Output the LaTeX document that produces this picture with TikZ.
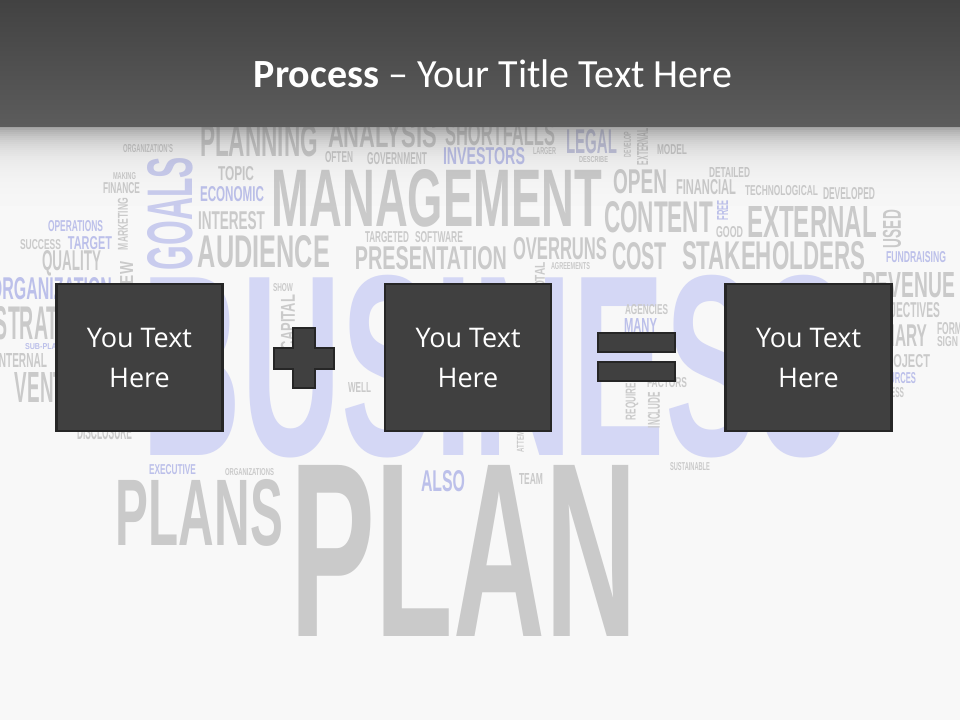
\documentclass[tikz,border=0pt]{standalone}
\usepackage{fontspec}
\usepackage{graphicx}
\usepackage{xcolor}
\usepackage{tikz}
\usetikzlibrary{positioning,calc}

\newfontfamily\cloudfont{Liberation Sans}
\newfontfamily\titlefont{Carlito}
\newfontfamily\boxfont{Open Sans}

\definecolor{slidebg}{HTML}{F8F8F8}
\definecolor{hdrtop}{HTML}{424242}
\definecolor{hdrbot}{HTML}{5C5C5C}
\definecolor{cloudgray}{HTML}{CACACA}
\definecolor{cloudblue}{HTML}{BCC0EA}
\definecolor{cloudlav}{HTML}{D4D7F5}
\definecolor{goalslav}{HTML}{C9CCEE}
\definecolor{legalgray}{HTML}{C2C4DD}
\definecolor{boxfill}{HTML}{404040}
\definecolor{boxedge}{HTML}{262626}

% word of the cloud: x1 y1 x2 y2 colour text
\newcommand{\cloudword}[6]{%
  \pgfmathsetmacro\cwW{#3-#1}\pgfmathsetmacro\cwH{#4-#2}%
  \node[word,text=#5,name=cw-#6] at ({(#1+#3)/2},{(#2+#4)/2})
    {\resizebox{\cwW pt}{\cwH pt}{#6}};}
% same, read from bottom to top
\newcommand{\cloudwordv}[6]{%
  \pgfmathsetmacro\cwW{#4-#2}\pgfmathsetmacro\cwH{#3-#1}%
  \node[word,rotate=90,text=#5,name=cv-#6] at ({(#1+#3)/2},{(#2+#4)/2})
    {\resizebox{\cwW pt}{\cwH pt}{#6}};}

\begin{document}
\begin{tikzpicture}[
  x=1pt,y=-1pt,
  word/.style={inner sep=0pt,outer sep=0pt,font=\cloudfont\bfseries},
  box/.style={rectangle,draw=boxedge,fill=boxfill,line width=2.5pt,
              minimum width=166pt,minimum height=147pt,
              align=center,text=white,
              font=\boxfont\fontsize{27}{40}\selectfont},
  sign/.style={draw=boxedge,fill=boxfill,line width=2.5pt}
]
\useasboundingbox (0,0) rectangle (960,720);
\fill[slidebg] (0,0) rectangle (960,720);

% word cloud in the background
\cloudword{123}{145}{173}{153}{cloudgray}{ORGANIZATION'S}
\cloudword{200}{125}{318}{157}{cloudgray}{PLANNING}
\cloudword{328}{122}{437}{148}{cloudgray}{ANALYSIS}
\cloudword{445}{122}{555}{146}{cloudgray}{SHORTFALLS}
\cloudword{325}{152}{353}{163}{cloudgray}{OFTEN}
\cloudword{367}{153}{427}{165}{cloudgray}{GOVERNMENT}
\cloudword{443}{148}{525}{165}{cloudblue}{INVESTORS}
\cloudword{533}{148}{556}{155}{cloudgray}{LARGER}
\cloudword{566}{130}{617}{154}{legalgray}{LEGAL}
\cloudword{579}{157}{608}{163}{cloudgray}{DESCRIBE}
\cloudwordv{624}{132}{631}{157}{cloudgray}{DEVELOP}
\cloudwordv{637}{128}{648}{165}{cloudgray}{EXTERNAL}
\cloudword{657}{145}{687}{155}{cloudgray}{MODEL}
\cloudword{113}{173}{136}{180}{cloudgray}{MAKING}
\cloudword{103}{183}{140}{194}{cloudgray}{FINANCE}
\cloudwordv{148}{157}{193}{270}{goalslav}{GOALS}
\cloudword{218}{167}{254}{181}{cloudgray}{TOPIC}
\cloudword{200}{187}{264}{202}{cloudblue}{ECONOMIC}
\cloudword{198}{212}{265}{230}{cloudgray}{INTEREST}
\cloudword{272}{170}{602}{227}{cloudgray}{MANAGEMENT}
\cloudword{198}{236}{330}{268}{cloudgray}{AUDIENCE}
\cloudword{365}{232}{409}{243}{cloudgray}{TARGETED}
\cloudword{415}{232}{463}{243}{cloudgray}{SOFTWARE}
\cloudword{355}{247}{507}{270}{cloudgray}{PRESENTATION}
\cloudword{513}{238}{607}{260}{cloudgray}{OVERRUNS}
\cloudword{613}{170}{667}{194}{cloudgray}{OPEN}
\cloudword{709}{167}{750}{177}{cloudgray}{DETAILED}
\cloudword{676}{180}{736}{195}{cloudgray}{FINANCIAL}
\cloudword{745}{186}{818}{196}{cloudgray}{TECHNOLOGICAL}
\cloudword{823}{188}{875}{200}{cloudgray}{DEVELOPED}
\cloudword{604}{202}{713}{233}{cloudgray}{CONTENT}
\cloudwordv{717}{200}{728}{220}{cloudblue}{FREE}
\cloudword{716}{227}{743}{238}{cloudgray}{GOOD}
\cloudword{747}{206}{877}{237}{cloudgray}{EXTERNAL}
\cloudwordv{883}{210}{901}{248}{cloudgray}{USED}
\cloudword{612}{243}{667}{270}{cloudgray}{COST}
\cloudword{682}{242}{865}{270}{cloudgray}{STAKEHOLDERS}
\cloudword{886}{252}{946}{263}{cloudblue}{FUNDRAISING}
\cloudword{551}{263}{590}{270}{cloudgray}{AGREEMENTS}
\cloudwordv{535}{262}{545}{295}{cloudgray}{TOTAL}
\cloudword{48}{221}{103}{232}{cloudblue}{OPERATIONS}
\cloudword{20}{240}{61}{250}{cloudgray}{SUCCESS}
\cloudword{68}{237}{112}{250}{cloudblue}{TARGET}
\cloudwordv{118}{198}{128}{250}{cloudgray}{MARKETING}
\cloudword{42}{253}{101}{273}{cloudgray}{QUALITY}
\cloudwordv{120}{262}{133}{316}{cloudgray}{REVIEW}
\cloudword{-10}{278}{112}{300}{cloudblue}{ORGANIZATION}
\cloudword{-5}{307}{100}{340}{cloudgray}{STRATEGY}
\cloudword{25}{344}{62}{350}{cloudblue}{SUB-PLAN}
\cloudword{-4}{353}{47}{367}{cloudgray}{INTERNAL}
\cloudword{15}{373}{105}{403}{cloudgray}{VENTURE}
\cloudword{77}{425}{132}{440}{cloudgray}{DISCLOSURE}
\cloudword{142}{277}{850}{457}{cloudlav}{BUSINESS}
\cloudword{273}{284}{293}{292}{cloudgray}{SHOW}
\cloudwordv{281}{295}{295}{350}{cloudgray}{CAPITAL}
\cloudword{348}{382}{371}{392}{cloudgray}{WELL}
\cloudword{625}{305}{668}{315}{cloudgray}{AGENCIES}
\cloudword{624}{318}{657}{332}{cloudblue}{MANY}
\cloudword{647}{378}{687}{388}{cloudgray}{FACTORS}
\cloudwordv{627}{383}{637}{420}{cloudgray}{REQUIRE}
\cloudwordv{648}{392}{660}{428}{cloudgray}{INCLUDE}
\cloudwordv{517}{420}{524}{452}{cloudgray}{ATTEMPTS}
\cloudword{862}{273}{955}{298}{cloudgray}{REVENUE}
\cloudword{875}{303}{940}{318}{cloudgray}{OBJECTIVES}
\cloudword{848}{325}{927}{347}{cloudgray}{SUMMARY}
\cloudword{937}{323}{962}{335}{cloudgray}{FORM}
\cloudword{937}{337}{958}{347}{cloudgray}{SIGN}
\cloudword{878}{355}{930}{368}{cloudgray}{PROJECT}
\cloudword{868}{373}{916}{384}{cloudblue}{RESOURCES}
\cloudword{872}{388}{904}{398}{cloudgray}{PROCESS}
\cloudword{149}{465}{196}{475}{cloudblue}{EXECUTIVE}
\cloudword{225}{469}{274}{476}{cloudgray}{ORGANIZATIONS}
\cloudword{116}{480}{283}{546}{cloudgray}{PLANS}
\cloudword{291}{465}{637}{636}{cloudgray}{PLAN}
\cloudword{421}{471}{465}{492}{cloudblue}{ALSO}
\cloudword{519}{473}{543}{484}{cloudgray}{TEAM}
\cloudword{670}{463}{710}{471}{cloudgray}{SUSTAINABLE}

% title bar and its soft lower edge
\shade[top color=hdrtop,bottom color=hdrbot] (0,0) rectangle (960,126);
\foreach \k in {0,...,39}{
  \pgfmathsetmacro\op{0.55*exp(-\k/9)}
  \fill[hdrbot,opacity=\op] (0,126+2*\k) rectangle (960,128+2*\k);
}
\node[anchor=base,text=white,inner sep=0pt] (title) at (493,87)
  {\titlefont\fontsize{40}{48}\selectfont\textbf{Process} – Your Title Text Here};

% the sum
\node[box] (first)  at (139.5,357.5) {You Text\\Here};
\node[box] (second) at (468,357.5)   {You Text\\Here};
\node[box] (result) at (808.5,357.5) {You Text\\Here};

\draw[sign] (293,328) -- (315,328) -- (315,348) -- (334,348) -- (334,369)
  -- (315,369) -- (315,388) -- (293,388) -- (293,369) -- (274,369)
  -- (274,348) -- (293,348) -- cycle;
\draw[sign] (598,333) rectangle (675,352);
\draw[sign] (598,362) rectangle (675,381);
\end{tikzpicture}
\end{document}
